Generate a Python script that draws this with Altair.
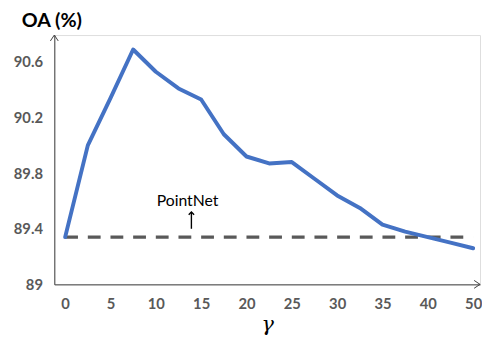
import json
import altair as alt
import pandas as pd

# ---- data ----
gamma = ["0", "2.5", "5", "7.5", "10", "12.5", "15", "17.5", "20", "22.5",
         "25", "27.5", "30", "32.5", "35", "37.5", "40", "45", "50"]
oa = [89.34, 90.00, 90.34, 90.69, 90.53, 90.41, 90.33, 90.08, 89.92, 89.87,
      89.88, 89.76, 89.64, 89.55, 89.43, 89.38, 89.34, 89.30, 89.26]
pointnet_oa = 89.34
y_ticks = [89, 89.4, 89.8, 90.2, 90.6]
ann_label = ["PointNet"]
ann_x = [5.40]          # in category-index units
ann_y = [89.60]
arrow_x = [5.57]
arrow_lo = [89.40]
arrow_hi = [89.52]

df = pd.DataFrame({"idx": list(range(len(gamma))), "gamma": gamma, "oa": oa})
base_df = pd.DataFrame({"x0": [0], "x1": [len(gamma) - 1], "y": [pointnet_oa]})
ann_df = pd.DataFrame({"idx": ann_x, "oa": ann_y, "t": ann_label})
arr_df = pd.DataFrame({"idx": arrow_x, "lo": arrow_lo, "hi": arrow_hi})
one = pd.DataFrame({"k": [0]})

W, H = 432, 253
LABEL_FONT = "Lato"
GRAY = "#595959"
AXC = "#404040"

xscale = alt.Scale(domain=[-0.478, 18.304], nice=False, zero=False)
yscale = alt.Scale(domain=[89, 90.794], nice=False, zero=False)

xaxis = alt.Axis(
    values=list(range(0, len(gamma), 2)),
    labelExpr=json.dumps(gamma) + "[datum.value]",
    grid=False, ticks=False, tickSize=0,
    domainColor=AXC, domainWidth=1,
    labelFont=LABEL_FONT, labelFontSize=15, labelFontWeight="bold",
    labelColor=GRAY, labelPadding=19, labelBaseline="middle",
    title="\u03b3", titleFont="DejaVu Serif", titleFontStyle="italic",
    titleFontWeight="normal", titleFontSize=21, titleColor="black",
    titleY=41, titleBaseline="middle",
)
yaxis = alt.Axis(
    values=y_ticks, format=".1~f",
    grid=False, ticks=False, tickSize=0,
    domainColor=AXC, domainWidth=1,
    labelFont=LABEL_FONT, labelFontSize=15, labelFontWeight="bold",
    labelColor=GRAY, labelPadding=12, labelBaseline="middle",
    title="OA (%)", titleAngle=0, titleX=-3, titleY=-15,
    titleAlign="center", titleBaseline="middle",
    titleFont=LABEL_FONT, titleFontSize=20, titleFontWeight="bold",
    titleColor="black",
)


def X(field):
    return alt.X(field, type="quantitative", scale=xscale, axis=xaxis)


def Y(field):
    return alt.Y(field, type="quantitative", scale=yscale, axis=yaxis)


line = alt.Chart(df).mark_line(
    color="#4472C4", strokeWidth=4, strokeJoin="round", strokeCap="round"
).encode(x=X("idx"), y=Y("oa"))

baseline = alt.Chart(base_df).mark_rule(
    color=GRAY, strokeWidth=3.5, strokeDash=[13, 10]
).encode(x=X("x0"), x2="x1", y=Y("y"))

ann = alt.Chart(ann_df).mark_text(
    font=LABEL_FONT, fontSize=16, color="black", baseline="middle", align="center"
).encode(x=X("idx"), y=Y("oa"), text="t")

arrow_stem = alt.Chart(arr_df).mark_rule(color="black", strokeWidth=1.4).encode(
    x=X("idx"), y=Y("lo"), y2="hi"
)
arrow_head = alt.Chart(arr_df).mark_point(
    shape="M-1,1L0,0L1,1", filled=False, size=30, color="black",
    strokeWidth=1.4, opacity=1
).encode(x=X("idx"), y=Y("hi"))


# axis arrowheads (decoration)
def seg(x1, y1, x2, y2):
    return alt.Chart(one).mark_rule(color=AXC, strokeWidth=1).encode(
        x=alt.value(x1), y=alt.value(y1), x2=alt.value(x2), y2=alt.value(y2)
    )


heads = [
    seg(0, 0, -4, 6), seg(0, 0, 4, 6),
    seg(W, H, W - 6, H - 4), seg(W, H, W - 6, H + 4),
]

chart = alt.layer(baseline, line, ann, arrow_stem, arrow_head, *heads).properties(
    width=W, height=H,
    autosize=alt.AutoSizeParams(type="none"),
    padding={"left": 47, "top": 25, "right": 2, "bottom": 53},
).configure_view(stroke=None).configure(background="white")

chart.save("out.html", embed_options={"renderer": "svg", "actions": False})
